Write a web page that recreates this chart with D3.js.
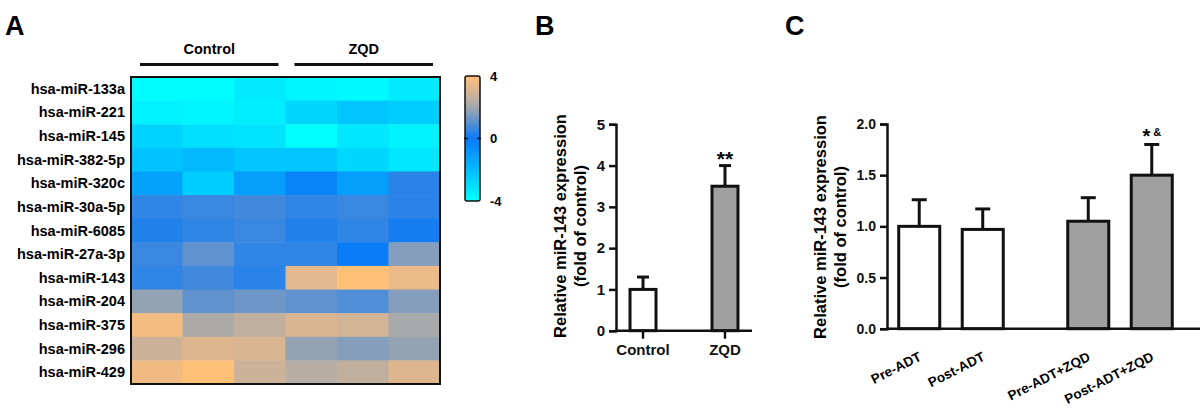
<!DOCTYPE html>
<html>
<head>
<meta charset="utf-8">
<script src="https://cdn.jsdelivr.net/npm/d3@7/dist/d3.min.js"></script>
<style>
  html, body { margin: 0; padding: 0; background: #fff; }
  svg { display: block; font-family: "Liberation Sans", Arial, sans-serif; font-weight: bold; }
</style>
</head>
<body>
<svg id="chart" width="1200" height="409"></svg>
<script>
// ---------- DATA ----------
const rowLabels = ["hsa-miR-133a","hsa-miR-221","hsa-miR-145","hsa-miR-382-5p","hsa-miR-320c",
  "hsa-miR-30a-5p","hsa-miR-6085","hsa-miR-27a-3p","hsa-miR-143","hsa-miR-204",
  "hsa-miR-375","hsa-miR-296","hsa-miR-429"];
const groupLabels = ["Control", "ZQD"];
const sampleIds = ["C1","C2","C3","Z1","Z2","Z3"];
const heatValues = [
  [-3.9, -3.9, -3.4, -3.7, -3.8, -3.4],
  [-3.6, -3.7, -3.5, -2.8, -2.3, -2.5],
  [-2.7, -3.1, -3.2, -4.0, -3.3, -3.6],
  [-2.2, -1.9, -2.3, -2.3, -2.8, -3.3],
  [-1.2, -2.5, -1.1, -0.3, -1.1,  0.4],
  [ 0.5,  0.6,  0.7,  0.5,  0.6,  0.4],
  [ 0.3,  0.5,  0.6,  0.3,  0.5,  0.15],
  [ 0.6,  1.1,  0.5,  0.5, -0.1,  1.6],
  [ 0.5,  0.7,  0.4,  3.3,  4.0,  3.5],
  [ 1.8,  1.1,  1.3,  1.1,  0.9,  1.6],
  [ 3.7,  2.2,  2.6,  3.1,  2.9,  2.1],
  [ 2.8,  3.2,  3.1,  1.8,  1.6,  1.8],
  [ 3.6,  4.0,  2.8,  2.4,  2.6,  3.2]
];
const colorTicks = [4, 0, -4];

const bCategories = ["Control", "ZQD"];
const bMeans = [1.0, 3.5];
const bErrors = [0.3, 0.5];
const bTicks = [0, 1, 2, 3, 4, 5];

const cGroups = ["ADT", "ADT+ZQD"];
const cCategories = ["Pre-ADT", "Post-ADT", "Pre-ADT+ZQD", "Post-ADT+ZQD"];
const cGroupOf = ["ADT", "ADT", "ADT+ZQD", "ADT+ZQD"];
const cMeans = [1.0, 0.97, 1.05, 1.5];
const cErrors = [0.26, 0.2, 0.23, 0.3];
const cTicks = [0, 0.5, 1.0, 1.5, 2.0];

// ---------- SETUP ----------
const svg = d3.select("#chart");

// Panel letters
[["A", 5], ["B", 535], ["C", 785]].forEach(([t, x]) => {
  svg.append("text").attr("x", x).attr("y", 35).attr("font-size", 27).text(t);
});

// ---------- PANEL A: HEATMAP ----------
const hm = { left: 131, right: 440, top: 77, bottom: 384 };
const xHeat = d3.scaleBand().domain(sampleIds).range([hm.left, hm.right]);
const yHeat = d3.scaleBand().domain(rowLabels).range([hm.top, hm.bottom]);
const color = d3.scaleLinear()
  .domain([-4, -2, 0, 1, 2, 3, 4])
  .range(["#00ffff", "#00bcff", "#0a7af6", "#5890d2", "#a2a8ac", "#d6b494", "#ffc078"])
  .interpolate(d3.interpolateRgb)
  .clamp(true);

const cells = [];
heatValues.forEach((row, i) => row.forEach((v, j) => cells.push({ r: rowLabels[i], c: sampleIds[j], v })));
svg.append("g").selectAll("rect").data(cells).join("rect")
  .attr("x", d => xHeat(d.c))
  .attr("y", d => yHeat(d.r))
  .attr("width", xHeat.bandwidth() + 0.5)
  .attr("height", yHeat.bandwidth() + 0.5)
  .attr("fill", d => color(d.v));
svg.append("rect")
  .attr("x", hm.left).attr("y", hm.top)
  .attr("width", hm.right - hm.left).attr("height", hm.bottom - hm.top)
  .attr("fill", "none").attr("stroke", "#111").attr("stroke-width", 2);

svg.append("g").selectAll("text").data(rowLabels).join("text")
  .attr("x", 125)
  .attr("y", d => yHeat(d) + yHeat.bandwidth() / 2)
  .attr("dy", "0.35em")
  .attr("text-anchor", "end")
  .attr("font-size", 14.5)
  .text(d => d);

// group headers
const groupSpan = [
  { label: groupLabels[0], ids: sampleIds.slice(0, 3) },
  { label: groupLabels[1], ids: sampleIds.slice(3) }
];
groupSpan.forEach(g => {
  const x0 = xHeat(g.ids[0]) + 9;
  const x1 = xHeat(g.ids[g.ids.length - 1]) + xHeat.bandwidth() - 7;
  svg.append("line").attr("x1", x0).attr("x2", x1).attr("y1", 64.5).attr("y2", 64.5)
    .attr("stroke", "#111").attr("stroke-width", 3);
  svg.append("text").attr("x", (x0 + x1) / 2).attr("y", 54)
    .attr("text-anchor", "middle").attr("font-size", 14.5).text(g.label);
});

// colorbar
const cb = { x: 465, w: 15, top: 76, bottom: 201 };
const yColor = d3.scaleLinear().domain([-4, 4]).range([cb.bottom, cb.top]);
const defs = svg.append("defs");
const grad = defs.append("linearGradient").attr("id", "cbgrad")
  .attr("x1", 0).attr("y1", 1).attr("x2", 0).attr("y2", 0);
d3.range(0, 1.0001, 0.05).forEach(t => {
  grad.append("stop").attr("offset", t).attr("stop-color", color(-4 + 8 * t));
});
svg.append("rect").attr("x", cb.x).attr("y", cb.top).attr("width", cb.w)
  .attr("height", cb.bottom - cb.top).attr("rx", 2)
  .attr("fill", "url(#cbgrad)").attr("stroke", "#111").attr("stroke-width", 1.5);
colorTicks.forEach(t => {
  svg.append("text").attr("x", 490).attr("y", yColor(t)).attr("dy", "0.35em")
    .attr("font-size", 13).text(t);
});
svg.append("line").attr("x1", cb.x - 1).attr("x2", cb.x + 3).attr("y1", yColor(0)).attr("y2", yColor(0))
  .attr("stroke", "#111").attr("stroke-width", 1.5);
svg.append("line").attr("x1", cb.x + cb.w - 3).attr("x2", cb.x + cb.w + 1).attr("y1", yColor(0)).attr("y2", yColor(0))
  .attr("stroke", "#111").attr("stroke-width", 1.5);

// ---------- helpers ----------
function drawYAxis(g, scale, x, ticks, fmt, fontSize) {
  const ax = g.append("g").attr("transform", `translate(${x},0)`)
    .call(d3.axisLeft(scale).tickValues(ticks).tickFormat(fmt).tickSize(7).tickPadding(4));
  ax.select(".domain").attr("stroke", "#111").attr("stroke-width", 2.5);
  ax.selectAll(".tick line").attr("stroke", "#111").attr("stroke-width", 2.5);
  ax.selectAll(".tick text").attr("fill", "#111").attr("font-size", fontSize)
    .attr("font-weight", "bold").attr("font-family", "Liberation Sans, Arial, sans-serif");
  return ax;
}
function yTitle(g, cx1, cx2, cy, fontSize) {
  g.append("text").attr("transform", `translate(${cx1},${cy}) rotate(-90)`)
    .attr("text-anchor", "middle").attr("font-size", fontSize).text("Relative miR-143 expression");
  g.append("text").attr("transform", `translate(${cx2},${cy}) rotate(-90)`)
    .attr("text-anchor", "middle").attr("font-size", fontSize).text("(fold of control)");
}

// ---------- PANEL B ----------
const gB = svg.append("g");
const yB = d3.scaleLinear().domain([0, 5]).range([330.7, 124.3]);
const xB = d3.scaleBand().domain(bCategories).range([616, 752]).paddingInner(0.683).paddingOuter(0.171);
const bFill = ["#ffffff", "#a0a0a0"];
bCategories.forEach((c, i) => {
  const cx = xB(c) + xB.bandwidth() / 2;
  gB.append("line").attr("x1", cx).attr("x2", cx).attr("y1", yB(bMeans[i])).attr("y2", yB(bMeans[i] + bErrors[i]))
    .attr("stroke", "#111").attr("stroke-width", 3);
  gB.append("line").attr("x1", cx - 6).attr("x2", cx + 6).attr("y1", yB(bMeans[i] + bErrors[i])).attr("y2", yB(bMeans[i] + bErrors[i]))
    .attr("stroke", "#111").attr("stroke-width", 3);
});
gB.selectAll("rect.bar").data(bCategories).join("rect").attr("class", "bar")
  .attr("x", d => xB(d)).attr("width", xB.bandwidth())
  .attr("y", (d, i) => yB(bMeans[i])).attr("height", (d, i) => yB(0) - yB(bMeans[i]))
  .attr("fill", (d, i) => bFill[i]).attr("stroke", "#111").attr("stroke-width", 3);
drawYAxis(gB, yB, 616, bTicks, d3.format("d"), 15);
const axB = gB.append("g").attr("transform", `translate(0,${yB(0)})`)
  .call(d3.axisBottom(xB).tickSize(8).tickPadding(6));
axB.select(".domain").attr("stroke", "#111").attr("stroke-width", 2.5).attr("d", `M616,0H752`);
axB.selectAll(".tick line").attr("stroke", "#111").attr("stroke-width", 2.5);
axB.selectAll(".tick text").attr("fill", "#111").attr("font-size", 15).attr("font-weight", "bold")
  .attr("font-family", "Liberation Sans, Arial, sans-serif");
gB.append("text").attr("x", xB("ZQD") + xB.bandwidth() / 2).attr("y", 166)
  .attr("text-anchor", "middle").attr("font-size", 21).text("**");
yTitle(gB, 566, 586, 226, 16.5);

// ---------- PANEL C ----------
const gC = svg.append("g");
const yC = d3.scaleLinear().domain([0, 2]).range([328.7, 124]);
const xCOuter = d3.scaleBand().domain(cGroups).range([892, 1179]).paddingInner(0.302).paddingOuter(0);
const xCInner = d3.scaleBand().domain([0, 1]).range([0, xCOuter.bandwidth()]).paddingInner(0.354).paddingOuter(0.106);
const cFill = ["#ffffff", "#ffffff", "#a0a0a0", "#a0a0a0"];
const cX = i => xCOuter(cGroupOf[i]) + xCInner(i % 2);
cCategories.forEach((c, i) => {
  const cx = cX(i) + xCInner.bandwidth() / 2;
  const top = yC(cMeans[i] + cErrors[i]);
  gC.append("line").attr("x1", cx).attr("x2", cx).attr("y1", yC(cMeans[i])).attr("y2", top)
    .attr("stroke", "#111").attr("stroke-width", 3);
  gC.append("line").attr("x1", cx - 7.5).attr("x2", cx + 7.5).attr("y1", top).attr("y2", top)
    .attr("stroke", "#111").attr("stroke-width", 3);
});
gC.selectAll("rect.bar").data(cCategories).join("rect").attr("class", "bar")
  .attr("x", (d, i) => cX(i)).attr("width", xCInner.bandwidth())
  .attr("y", (d, i) => yC(cMeans[i])).attr("height", (d, i) => yC(0) - yC(cMeans[i]))
  .attr("fill", (d, i) => cFill[i]).attr("stroke", "#111").attr("stroke-width", 3);
drawYAxis(gC, yC, 887, cTicks, d3.format(".1f"), 14);
gC.append("line").attr("x1", 886).attr("x2", 1200).attr("y1", yC(0)).attr("y2", yC(0))
  .attr("stroke", "#111").attr("stroke-width", 2.5);
gC.selectAll("text.xl").data(cCategories).join("text").attr("class", "xl")
  .attr("transform", (d, i) => `translate(${cX(i) + xCInner.bandwidth() / 2 + 3},${yC(0) + 31}) rotate(-27)`)
  .attr("text-anchor", "end").attr("font-size", 13.5).text(d => d);
const starX = cX(3) + xCInner.bandwidth() / 2;
const st = gC.append("text").attr("x", starX).attr("y", 143).attr("text-anchor", "middle");
st.append("tspan").attr("font-size", 20).text("*");
st.append("tspan").attr("font-size", 11).attr("dx", 3).attr("dy", -7).text("&");
yTitle(gC, 826, 846, 227, 16.5);
</script>
</body>
</html>
